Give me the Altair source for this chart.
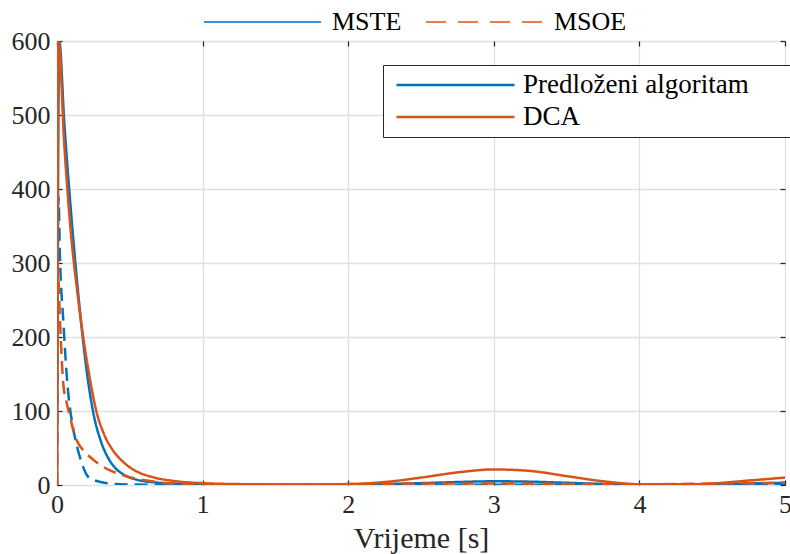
import altair as alt
import pandas as pd

BLUE = "#0072BD"
ORANGE = "#D95319"
FONT = "Liberation Serif"

# Predloženi algoritam - MSTE (solid blue)
t_pa_mste = [0, 0.015, 0.05, 0.1, 0.15, 0.2, 0.25, 0.3, 0.35, 0.4, 0.45, 0.55, 0.7, 0.85, 1.0,
             1.25, 1.5, 1.75, 2.0, 2.25, 2.5, 2.75, 3.0, 3.25, 3.5, 3.75, 4.0, 4.25, 4.5, 4.75, 5.0]
v_pa_mste = [0, 600, 490, 360, 250, 160, 97, 60, 37, 23, 15, 7, 3, 1.5, 0.8,
             0.4, 0.3, 0.3, 0.5, 1.2, 2.5, 4, 5, 4.5, 3, 1.5, 0.8, 0.6, 1, 2, 3]

# DCA - MSTE (solid orange)
t_dca_mste = [0, 0.01, 0.05, 0.094, 0.14, 0.18, 0.22, 0.27, 0.32, 0.38, 0.45, 0.55, 0.65, 0.8, 1.0,
              1.25, 1.5, 1.75, 2.0, 2.25, 2.5, 2.75, 3.0, 3.25, 3.5, 3.75, 4.0, 4.25, 4.5, 4.75, 5.0]
v_dca_mste = [0, 600, 460, 344, 260, 200, 150, 100, 70, 48, 32, 18, 11, 5.5, 2.5,
              1.2, 0.8, 0.6, 1.2, 4, 10, 17, 21, 19, 12, 5, 1, 0.5, 2, 6, 10]

# Predloženi algoritam - MSOE (dashed blue)
t_pa_msoe = [0, 0.01, 0.02, 0.044, 0.066, 0.082, 0.11, 0.14, 0.16, 0.21, 0.25, 0.3, 0.4, 0.6, 0.8,
             1.0, 1.5, 2.0, 2.5, 3.0, 3.5, 4.0, 4.5, 5.0]
v_pa_msoe = [0, 390, 310, 220, 150, 115, 78, 50, 36, 12, 7, 4, 1.5, 0.4, 0.2,
             0.1, 0.1, 0.2, 0.3, 0.5, 0.4, 0.2, 0.3, 0.5]

# DCA - MSOE (dashed orange)
t_dca_msoe = [0, 0.005, 0.02, 0.043, 0.065, 0.09, 0.12, 0.15, 0.19, 0.25, 0.36, 0.45, 0.52, 0.64,
              0.74, 0.9, 1.0, 1.25, 1.5, 2.0, 2.5, 3.0, 3.5, 4.0, 4.5, 5.0]
v_dca_msoe = [0, 300, 225, 137, 112, 92, 68, 55, 45, 34, 20, 13.5, 9.5, 5.4,
              2.7, 1.8, 1.2, 0.9, 0.8, 1.2, 2, 2, 1.5, 1, 2, 3]

algorithms = ["Predloženi algoritam", "DCA"]
metrics = ["MSTE", "MSOE"]
x_ticks = [0, 1, 2, 3, 4, 5]
y_ticks = [0, 100, 200, 300, 400, 500, 600]

rows = []
def add(ts, vs, alg, metric, order):
    for t, v in zip(ts, vs):
        rows.append({"t": t, "v": v, "alg": alg, "metric": metric, "o": order})

add(t_pa_mste, v_pa_mste, algorithms[0], metrics[0], 0)
add(t_pa_msoe, v_pa_msoe, algorithms[0], metrics[1], 1)
add(t_dca_mste, v_dca_mste, algorithms[1], metrics[0], 2)
add(t_dca_msoe, v_dca_msoe, algorithms[1], metrics[1], 3)
df = pd.DataFrame(rows)

xscale = alt.Scale(domain=[0, 5], nice=False)
yscale = alt.Scale(domain=[0, 600], nice=False)

base = alt.Chart(df)

lines = base.mark_line(strokeWidth=2.5, clip=True, interpolate="monotone").encode(
    x=alt.X("t:Q", scale=xscale,
            axis=alt.Axis(title="Vrijeme [s]", values=x_ticks, orient="bottom", offset=-5,
                          tickSize=5, domain=False, grid=True, labelPadding=6,
                          titlePadding=6, titleFontSize=30, labelFlush=False)),
    y=alt.Y("v:Q", scale=yscale,
            axis=alt.Axis(title=None, values=y_ticks, orient="left", offset=-5,
                          tickSize=5, domain=False, grid=True, labelPadding=7)),
    color=alt.Color("alg:N", scale=alt.Scale(domain=algorithms, range=[BLUE, ORANGE]),
                    legend=alt.Legend(title=None, orient="none", legendX=326, legendY=24,
                                      direction="vertical", symbolType="stroke",
                                      symbolSize=13924, symbolStrokeWidth=2.5,
                                      clipHeight=32, rowPadding=0, padding=4,
                                      symbolOffset=8, labelOffset=7, labelLimit=500,
                                      labelFont=FONT, labelFontSize=27, labelColor="#000000",
                                      strokeColor="#262626", fillColor="#ffffff",
                                      labelExpr="datum.label + '\u2800\u2800'")),
    strokeDash=alt.StrokeDash("metric:N", scale=alt.Scale(domain=metrics, range=[[1, 0], [13, 7]]),
                              legend=None),
    detail="o:N",
    order=alt.Order("o:Q"),
)

# invisible layer that only carries the top (metric) legend
legend_layer = base.mark_line(strokeOpacity=0, strokeWidth=1.5, clip=True).transform_calculate(
    metric_key="datum.metric"
).encode(
    x=alt.X("t:Q", scale=xscale, axis=None),
    y=alt.Y("v:Q", scale=yscale, axis=None),
    strokeDash=alt.StrokeDash("metric_key:N", scale=alt.Scale(domain=metrics, range=[[1, 0], [20, 12]]),
                              legend=alt.Legend(title=None, orient="none", legendX=146, legendY=-34,
                                                direction="horizontal", symbolType="stroke",
                                                symbolSize=13689, symbolStrokeWidth=1.5,
                                                symbolOpacity=1,
                                                clipHeight=30, columnPadding=23, labelOffset=10,
                                                labelLimit=300, padding=0,
                                                labelFont=FONT, labelFontSize=26, labelColor="#000000",
                                                symbolStrokeColor={"expr": "datum.value === 'MSTE' ? '#0072BD' : '#D95319'"})),
    detail="metric_key:N",
)

frame = base.mark_point(opacity=0).encode(
    x=alt.X("t:Q", scale=xscale,
            axis=alt.Axis(title=None, values=x_ticks, orient="top", offset=-5, tickSize=5,
                          domain=False, grid=False, labels=False)),
    y=alt.Y("v:Q", scale=yscale,
            axis=alt.Axis(title=None, values=y_ticks, orient="right", offset=-5, tickSize=5,
                          domain=False, grid=False, labels=False)),
)

chart = alt.layer(lines, legend_layer, frame).resolve_axis(
    x="independent", y="independent"
).resolve_scale(strokeDash="independent").properties(
    width=728, height=444,
    autosize=alt.AutoSizeParams(type="none"),
    padding={"left": 57, "top": 41, "right": 5, "bottom": 69},
    background="white",
).configure_view(stroke="#262626", strokeWidth=1).configure_axis(
    labelFont=FONT, labelFontSize=26, labelColor="#262626",
    titleFont=FONT, titleColor="#262626", titleFontWeight="normal",
    tickColor="#262626", tickWidth=1.2, gridColor="#E0E0E0", gridWidth=1.3, gridOpacity=1,
)

chart.save("out.html", embed_options={"renderer": "svg", "actions": False})
